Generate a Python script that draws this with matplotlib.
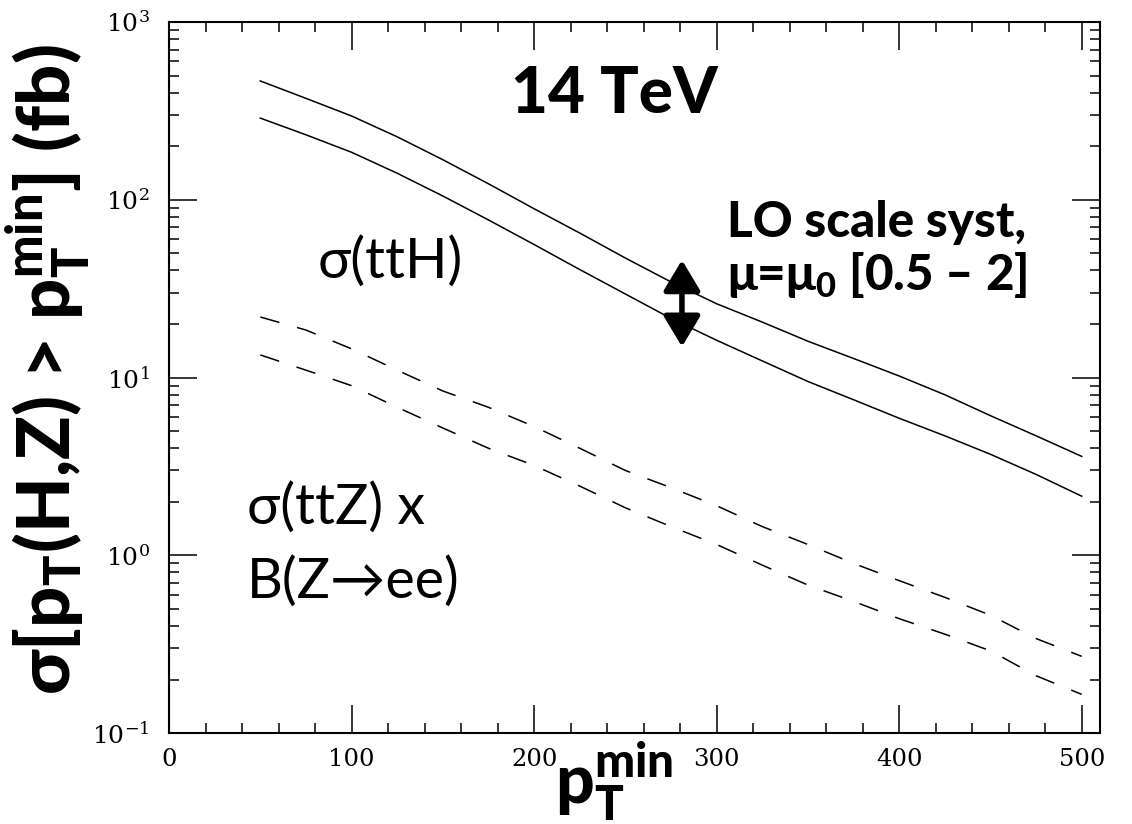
#!/usr/bin/env python3
"""
ttH / ttZ cross section above pT threshold, 14 TeV.
"""

import numpy as np
import matplotlib
matplotlib.use('Agg')
import matplotlib.pyplot as plt
from matplotlib import ticker

# pT threshold (GeV)
pt_min = [50, 75, 100, 125, 150, 175, 200, 225, 250, 275,
          300, 325, 350, 375, 400, 425, 450, 475, 500]

# sigma(ttH), scale mu0/2 (upper) and 2*mu0 (lower), fb
tth_hi = [466, 372, 296, 226, 168, 123, 89, 65, 47, 34.5,
          26, 20.5, 16, 12.8, 10.2, 8.0, 6.1, 4.7, 3.6]
tth_lo = [288, 232, 185, 141, 105, 77, 56, 40.5, 29.5, 21.5,
          16.2, 12.4, 9.5, 7.5, 5.9, 4.7, 3.7, 2.85, 2.15]

# sigma(ttZ) x B(Z->ee), fb
ttz_hi = [21.9, 18.5, 14.5, 11, 8.4, 6.8, 5.3, 4.0, 3.0, 2.4,
          1.9, 1.45, 1.15, 0.9, 0.72, 0.58, 0.46, 0.34, 0.27]
ttz_lo = [13.4, 11, 9.0, 6.8, 5.2, 4.0, 3.2, 2.45, 1.85, 1.45,
          1.15, 0.88, 0.68, 0.55, 0.44, 0.36, 0.29, 0.21, 0.165]

# scale band arrow: pT, lower and upper end (fb)
arrow_pt = 281
arrow_lo = 14.9
arrow_hi = 45.8

plt.rcParams['mathtext.fontset'] = 'custom'
plt.rcParams['mathtext.rm'] = 'DejaVu Serif'
plt.rcParams['mathtext.it'] = 'DejaVu Serif:italic'
plt.rcParams['mathtext.bf'] = 'Lato:black'

sans = ['Lato', 'Open Sans', 'DejaVu Sans']

fig = plt.figure(figsize=(11.32, 8.24), dpi=100)
ax = fig.add_axes([0.1493, 0.1104, 0.8224, 0.8629])

ax.plot(pt_min, tth_hi, color='black', lw=1.1)
ax.plot(pt_min, tth_lo, color='black', lw=1.1)
ax.plot(pt_min, ttz_hi, color='black', lw=1.1, dashes=(13, 12))
ax.plot(pt_min, ttz_lo, color='black', lw=1.1, dashes=(13, 12))

ax.set_yscale('log')
ax.set_xlim(0, 510)
ax.set_ylim(0.1, 1000)

ax.xaxis.set_major_locator(ticker.MultipleLocator(100))
ax.xaxis.set_minor_locator(ticker.MultipleLocator(20))
ax.yaxis.set_major_locator(ticker.LogLocator(base=10))
ax.yaxis.set_minor_locator(ticker.LogLocator(base=10, subs=np.arange(2, 10)))
ax.yaxis.set_minor_formatter(ticker.NullFormatter())
ax.yaxis.set_major_formatter(
    ticker.FuncFormatter(lambda v, p: r'$\mathrm{10^{%d}}$' % round(np.log10(v))))

ax.tick_params(which='both', direction='in', top=True, right=True,
               width=1.1, colors='black')
ax.tick_params(which='major', length=20)
ax.tick_params(which='minor', length=7)
ax.tick_params(axis='x', which='major', pad=11, labelsize=17.5)
ax.tick_params(axis='y', which='major', pad=14, labelsize=18)
for lab in ax.get_xticklabels():
    lab.set_fontfamily('DejaVu Serif')

for sp in ax.spines.values():
    sp.set_linewidth(1.5)

# annotations
ax.text(0.367, 0.872, '14 TeV', transform=ax.transAxes, family=sans,
        fontweight='black', fontsize=46, va='baseline')
ax.text(0.160, 0.641, 'σ(ttH)', transform=ax.transAxes, family=sans,
        fontsize=40, va='baseline')
ax.text(0.084, 0.295, 'σ(ttZ) x', transform=ax.transAxes, family=sans,
        fontsize=40, va='baseline')
ax.text(0.084, 0.190, 'B(Z→ee)', transform=ax.transAxes, family=sans,
        fontsize=40, va='baseline')
ax.text(0.599, 0.698, 'LO scale syst,', transform=ax.transAxes, family=sans,
        fontweight='black', fontsize=35.5, va='baseline')
ax.text(0.599, 0.623, r'μ=μ$_\mathbf{0}$ [0.5 – 2]', transform=ax.transAxes,
        family=sans, fontweight='black', fontsize=35.5, va='baseline')

ax.annotate('', xy=(arrow_pt, arrow_lo), xytext=(arrow_pt, arrow_hi),
            arrowprops=dict(arrowstyle='<|-|>,head_length=0.75,head_width=0.45',
                            lw=4.0, color='black', mutation_scale=25,
                            shrinkA=0, shrinkB=0))

# axis labels
fig.text(0.042, 0.551, r'σ[p$_\mathbf{T}$(H,Z) > p$_\mathbf{T}^\mathbf{min}$] (fb)',
         rotation=90, family=sans, fontweight='black', fontsize=52,
         ha='center', va='center')
fig.text(0.543, 0.025, r'p$_\mathbf{T}^\mathbf{min}$', family=sans,
         fontweight='black', fontsize=49, ha='center', va='baseline')

plt.savefig('out.png', dpi=100)
